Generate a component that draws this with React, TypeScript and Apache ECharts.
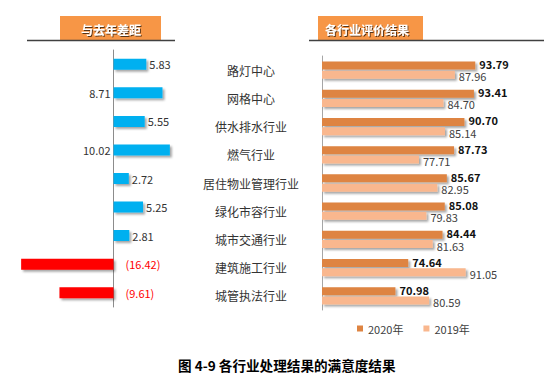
import React, { useEffect, useRef } from "react";
import * as echarts from "echarts";

const categories = [
  "路灯中心",
  "网格中心",
  "供水排水行业",
  "燃气行业",
  "居住物业管理行业",
  "绿化市容行业",
  "城市交通行业",
  "建筑施工行业",
  "城管执法行业",
];
const diffValues = [5.83, 8.71, 5.55, 10.02, 2.72, 5.25, 2.81, -16.42, -9.61];
const values2020 = [93.79, 93.41, 90.7, 87.73, 85.67, 85.08, 84.44, 74.64, 70.98];
const values2019 = [87.96, 84.7, 85.14, 77.71, 82.95, 79.83, 81.63, 91.05, 80.59];
const seriesNames = ["2020年", "2019年"];
const leftTitle = "与去年差距";
const rightTitle = "各行业评价结果";
const caption = "图 4-9 各行业处理结果的满意度结果";
const labelsLeftOfAxis = ["网格中心", "燃气行业"];

const FONT = "'Noto Sans CJK SC', 'Noto Sans', sans-serif";
const shadow = {
  shadowColor: "rgba(0,0,0,0.35)",
  shadowBlur: 2,
  shadowOffsetX: 2,
  shadowOffsetY: 2,
};

export default function App() {
  const ref = useRef<HTMLDivElement>(null);
  useEffect(() => {
    if (!ref.current) return;
    const chart = echarts.init(ref.current, undefined, { renderer: "svg" });
    const diffData = diffValues.map((v, i) => {
      const neg = v < 0;
      const left = labelsLeftOfAxis.includes(categories[i]);
      return {
        value: v,
        itemStyle: { color: neg ? "#FF0000" : "#00B0F0", ...shadow },
        label: {
          show: true,
          position: neg ? "right" : left ? "left" : "right",
          distance: neg ? 12 : 3,
          color: neg ? "#FF0000" : "#333333",
          fontSize: 11,
          fontFamily: FONT,
          formatter: () => (neg ? `(${Math.abs(v).toFixed(2)})` : v.toFixed(2)),
        },
      };
    });
    const titleText = (x: number, y: number, text: string) => ({
      type: "text",
      x,
      y,
      style: {
        text,
        fill: "#ffffff",
        font: `bold 12px ${FONT}`,
        textVerticalAlign: "middle",
        textShadowColor: "rgba(0,0,0,0.65)",
        textShadowBlur: 1,
        textShadowOffsetX: 1,
        textShadowOffsetY: 1,
      },
    });
    chart.setOption({
      animation: false,
      textStyle: { fontFamily: FONT },
      grid: [
        { left: 1, top: 50, width: 180, height: 257 },
        { left: 322, top: 56, width: 175, height: 254 },
      ],
      xAxis: [
        { gridIndex: 0, type: "value", min: -20, max: 12, show: false, splitLine: { show: false } },
        { gridIndex: 1, type: "value", min: 50, max: 100, show: false, splitLine: { show: false } },
      ],
      yAxis: [
        {
          gridIndex: 0,
          type: "category",
          data: categories,
          inverse: true,
          axisLabel: { show: false },
          axisTick: { show: false },
          axisLine: { lineStyle: { color: "#8c8c8c", width: 1 } },
        },
        {
          gridIndex: 1,
          type: "category",
          data: categories,
          inverse: true,
          axisTick: { show: false },
          axisLine: { lineStyle: { color: "#a6a6a6", width: 1 } },
          axisLabel: {
            margin: 71,
            align: "center",
            fontSize: 12,
            color: "#333333",
            fontFamily: FONT,
          },
        },
      ],
      legend: {
        data: seriesNames,
        left: 352,
        top: 318,
        icon: "rect",
        itemWidth: 6,
        itemHeight: 6,
        itemGap: 20,
        textStyle: { fontSize: 11, color: "#404040", fontFamily: FONT },
      },
      series: [
        {
          type: "bar",
          name: "diff",
          xAxisIndex: 0,
          yAxisIndex: 0,
          barWidth: 11,
          data: diffData,
        },
        {
          type: "bar",
          name: seriesNames[0],
          xAxisIndex: 1,
          yAxisIndex: 1,
          barWidth: 8,
          barGap: "16%",
          data: values2020,
          itemStyle: { color: "#DE8442", ...shadow },
          label: {
            show: true,
            position: "right",
            distance: 4,
            offset: [0, -1.5],
            color: "#111111",
            fontWeight: "bold",
            fontSize: 11,
            lineHeight: 11,
            fontFamily: FONT,
            formatter: (p: any) => Number(p.value).toFixed(2),
          },
        },
        {
          type: "bar",
          name: seriesNames[1],
          xAxisIndex: 1,
          yAxisIndex: 1,
          barWidth: 8,
          data: values2019,
          itemStyle: { color: "#F9B78E", ...shadow },
          label: {
            show: true,
            position: "right",
            distance: 4,
            offset: [0, 1.5],
            color: "#404040",
            fontSize: 11,
            lineHeight: 11,
            fontFamily: FONT,
            formatter: (p: any) => Number(p.value).toFixed(2),
          },
        },
      ],
      graphic: [
        { type: "rect", shape: { x: 60, y: 16, width: 101, height: 24 }, style: { fill: "#F79646" } },
        { type: "rect", shape: { x: 318, y: 16, width: 105, height: 24 }, style: { fill: "#F79646" } },
        { type: "line", shape: { x1: 27, y1: 40.5, x2: 175, y2: 40.5 }, style: { stroke: "#404040", lineWidth: 1.5 } },
        { type: "line", shape: { x1: 309, y1: 40.5, x2: 544, y2: 40.5 }, style: { stroke: "#404040", lineWidth: 1.5 } },
        titleText(81, 29, leftTitle),
        titleText(325, 29, rightTitle),
        {
          type: "text",
          x: 178,
          y: 365,
          style: {
            text: caption,
            fill: "#000000",
            font: `bold 13.6px ${FONT}`,
            textVerticalAlign: "middle",
          },
        },
      ],
    });
    return () => chart.dispose();
  }, []);
  return (
    <div
      ref={ref}
      style={{ position: "fixed", left: 0, top: 0, width: 559, height: 380, background: "#ffffff" }}
    />
  );
}
